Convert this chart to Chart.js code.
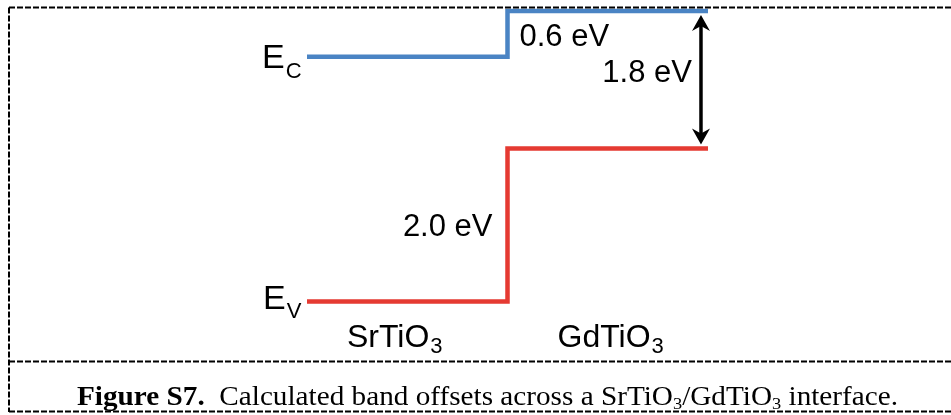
<!DOCTYPE html>
<html>
<head>
<meta charset="utf-8">
<script src="https://cdn.jsdelivr.net/npm/chart.js@4/dist/chart.umd.min.js"></script>
<style>
  html, body { margin: 0; padding: 0; background: #ffffff; }
  canvas { display: block; }
</style>
</head>
<body>
<canvas id="bands" width="951" height="415"></canvas>
<script>
// Position across the interface (0..1 SrTiO3, 1..2 GdTiO3)
const positions = [0, 1, 1, 2];
// Band edges in eV, referenced to the SrTiO3 valence band maximum
const conductionBand = [3.2, 3.2, 3.8, 3.8];
const valenceBand = [0.0, 0.0, 2.0, 2.0];
const materials = ['SrTiO', 'GdTiO'];
const bandNames = [['E', 'C'], ['E', 'V']];
const captionRuns = [
  { t: 'Figure S7.', bold: true },
  { t: '  Calculated band offsets across a SrTiO' },
  { t: '3', sub: true },
  { t: '/GdTiO' },
  { t: '3', sub: true },
  { t: ' interface.' }
];

const BLUE = '#4a84c4';
const RED = '#e53a32';
const SANS = '"Liberation Sans", Arial, sans-serif';
const SERIF = '"Liberation Serif", "Times New Roman", serif';

const cbOffset = conductionBand[2] - conductionBand[1];
const vbOffset = valenceBand[2] - valenceBand[1];
const gdGap = conductionBand[3] - valenceBand[3];
const eV = v => v.toFixed(1) + ' eV';

function toPoints(xs, ys) {
  return xs.map((x, i) => ({ x: x, y: ys[i] }));
}

// Text with a subscript tail, drawn left to right from (x, y)
function subText(ctx, x, y, main, sub, size, subSize, dy) {
  ctx.font = size + 'px ' + SANS;
  ctx.fillText(main, x, y);
  const w = ctx.measureText(main).width;
  ctx.font = subSize + 'px ' + SANS;
  ctx.fillText(sub, x + w + 1, y + dy);
  return w + 1 + ctx.measureText(sub).width;
}

function arrowHead(ctx, x, tipY, dir) {
  // dir = -1 points up, +1 points down
  const len = 16, half = 9, notch = 5;
  ctx.beginPath();
  ctx.moveTo(x, tipY);
  ctx.lineTo(x - half, tipY - dir * len);
  ctx.lineTo(x, tipY - dir * (len - notch));
  ctx.lineTo(x + half, tipY - dir * len);
  ctx.closePath();
  ctx.fill();
}

const annotations = {
  id: 'annotations',
  afterDatasetsDraw(chart) {
    const ctx = chart.ctx;
    const xs = chart.scales.x, ys = chart.scales.y;
    const W = chart.width;
    ctx.save();
    ctx.fillStyle = '#000';
    ctx.strokeStyle = '#000';
    ctx.textBaseline = 'alphabetic';
    ctx.textAlign = 'left';

    // Band-gap arrow inside GdTiO3
    const ax = xs.getPixelForValue(1.965);
    const aTop = ys.getPixelForValue(conductionBand[3]) + 4;
    const aBot = ys.getPixelForValue(valenceBand[3]) - 4;
    ctx.lineWidth = 3.5;
    ctx.beginPath();
    ctx.moveTo(ax, aTop + 8);
    ctx.lineTo(ax, aBot - 8);
    ctx.stroke();
    arrowHead(ctx, ax, aTop, -1);
    arrowHead(ctx, ax, aBot, 1);

    // Band labels
    const x0 = xs.getPixelForValue(0);
    const x1 = xs.getPixelForValue(1);
    const yC = ys.getPixelForValue(conductionBand[0]);
    const yV = ys.getPixelForValue(valenceBand[0]);
    subText(ctx, x0 - 45, yC + 11, bandNames[0][0], bandNames[0][1], 34, 22, 10);
    subText(ctx, x0 - 44, yV + 7, bandNames[1][0], bandNames[1][1], 34, 22, 9);

    // Offset labels
    ctx.font = '31px ' + SANS;
    const yCB = (ys.getPixelForValue(conductionBand[1]) + ys.getPixelForValue(conductionBand[2])) / 2;
    ctx.fillText(eV(cbOffset), x1 + 12, yCB + 12);
    const yVB = (ys.getPixelForValue(valenceBand[1]) + ys.getPixelForValue(valenceBand[2])) / 2;
    ctx.textAlign = 'right';
    ctx.fillText(eV(vbOffset), x1 - 15, yVB + 11);
    ctx.fillText(eV(gdGap), ax - 9, ys.getPixelForValue(conductionBand[3]) + 71);
    ctx.textAlign = 'left';

    // Material labels
    subText(ctx, x0 + 40, yV + 45, materials[0], '3', 32, 22, 6);
    subText(ctx, x1 + 50, yV + 45, materials[1], '3', 32, 22, 6);

    // Dashed frame around figure and caption
    ctx.lineWidth = 2;
    ctx.setLineDash([6, 2]);
    ctx.beginPath();
    ctx.moveTo(9, 7.5); ctx.lineTo(W, 7.5);
    ctx.moveTo(9, 7.5); ctx.lineTo(9, 412);
    ctx.moveTo(9, 361.5); ctx.lineTo(W, 361.5);
    ctx.moveTo(9, 411.5); ctx.lineTo(W, 411.5);
    ctx.stroke();
    ctx.setLineDash([]);

    // Caption
    const size = 27, subSize = 17;
    const fontOf = r => (r.bold ? 'bold ' : '') + (r.sub ? subSize : size) + 'px ' + SERIF;
    let total = 0;
    captionRuns.forEach(r => { ctx.font = fontOf(r); total += ctx.measureText(r.t).width; });
    const left = 77, right = 898, base = 405;
    const sx = (right - left) / total;
    ctx.translate(left, base);
    ctx.scale(sx, 1);
    let cx = 0;
    captionRuns.forEach(r => {
      ctx.font = fontOf(r);
      ctx.fillText(r.t, cx, r.sub ? 4 : 0);
      cx += ctx.measureText(r.t).width;
    });
    ctx.restore();
  }
};

new Chart(document.getElementById('bands'), {
  type: 'scatter',
  data: {
    datasets: [
      {
        label: 'Conduction band',
        data: toPoints(positions, conductionBand),
        showLine: true,
        borderColor: BLUE,
        backgroundColor: BLUE,
        borderWidth: 4.5,
        borderJoinStyle: 'miter',
        borderCapStyle: 'butt',
        pointRadius: 0,
        tension: 0,
        clip: false
      },
      {
        label: 'Valence band',
        data: toPoints(positions, valenceBand),
        showLine: true,
        borderColor: RED,
        backgroundColor: RED,
        borderWidth: 4.5,
        borderJoinStyle: 'miter',
        borderCapStyle: 'butt',
        pointRadius: 0,
        tension: 0,
        clip: false
      }
    ]
  },
  options: {
    responsive: false,
    animation: false,
    events: [],
    layout: { padding: { left: 307, right: 243, top: 11, bottom: 113.5 } },
    plugins: { legend: { display: false }, tooltip: { enabled: false } },
    scales: {
      x: { type: 'linear', min: 0, max: 2, display: false },
      y: { type: 'linear', min: 0, max: 3.8, display: false }
    }
  },
  plugins: [annotations]
});
</script>
</body>
</html>
